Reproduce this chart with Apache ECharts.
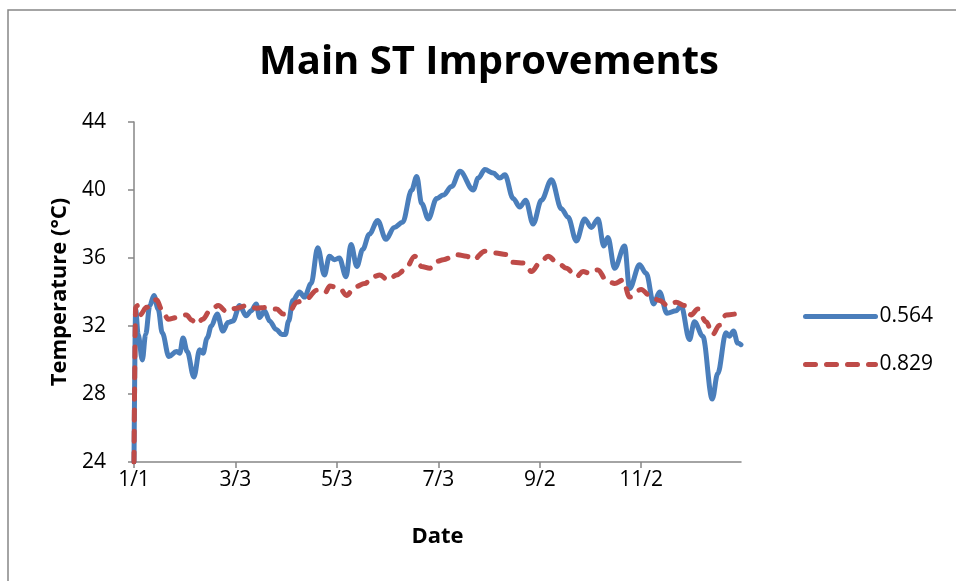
<!DOCTYPE html>
<html>
<head>
<meta charset="utf-8">
<title>Main ST Improvements</title>
<script src="https://cdn.jsdelivr.net/npm/echarts@6/dist/echarts.min.js"></script>
<style>
  html, body { margin: 0; padding: 0; background: #fff; }
  #chart { width: 956px; height: 581px; }
</style>
</head>
<body>
<div id="chart"></div>
<script>
// x is day of year (0 = 1/1)
const xTickDays = [0, 61, 122, 183, 244, 305]
const xTickLabels = ['1/1', '3/3', '5/3', '7/3', '9/2', '11/2']

const blueName = '0.564'
const blueDays = [0, 1, 2.5, 5, 7, 9.5, 12, 14.5, 17, 21, 25.5, 27.5, 29.5, 32, 36, 39.5, 41.5, 44, 46.5, 50,
  53.5, 56.5, 59.5, 63.5, 67.5, 70.5, 73.5, 75.5, 78.5, 81.5, 85.5, 89, 91, 93, 95.5, 99.5, 102.5, 106.5, 110.5, 114.5,
  117.5, 120.5, 123.5, 127.5, 130.5, 134, 137.5, 141.5, 146.5, 151.5, 156.5, 161.5, 167, 170, 173, 177, 182, 186, 191, 196,
  204, 207, 211, 216, 220, 223, 228, 232, 235.5, 240, 245, 251, 257, 261, 266, 271, 275, 279, 282.5, 285,
  289, 295, 298, 304, 308, 312.5, 316, 320.5, 326, 329, 334, 337, 342, 347.7, 351, 356, 358, 360.5, 363, 365]
const blueTemps = [24, 33.0, 31.5, 30.0, 31.5, 33.2, 33.8, 33.0, 31.6, 30.2, 30.5, 30.4, 31.3, 30.5, 29.0, 30.6, 30.4, 31.3, 32.0, 32.7,
  31.7, 32.2, 32.3, 33.2, 32.6, 32.9, 33.3, 32.5, 32.9, 32.3, 31.8, 31.5, 31.5, 32.3, 33.5, 34.0, 33.7, 34.5, 36.6, 35.0,
  36.1, 35.9, 36.0, 34.9, 36.8, 35.5, 36.5, 37.4, 38.2, 37.1, 37.8, 38.1, 40.0, 40.8, 39.2, 38.3, 39.5, 39.7, 40.2, 41.1,
  40.0, 40.7, 41.2, 41.0, 40.7, 40.9, 39.5, 39.0, 39.4, 38.0, 39.4, 40.6, 38.9, 38.4, 37.0, 38.3, 37.8, 38.3, 36.7, 37.2,
  35.4, 36.7, 34.2, 35.6, 35.1, 33.3, 34.0, 32.75, 32.9, 33.2, 31.2, 32.25, 31.4, 27.7, 29.2, 31.6, 31.4, 31.7, 31.0, 30.9]

const redName = '0.829'
const redDays = [0, 1, 2, 3.6, 7.6, 13.6, 16.6, 20.6, 25.6, 31.6, 34.6, 37.7, 41.3, 45.7, 50.7, 55.7, 61.7, 67.7, 73.7, 79.7,
  85.7, 89.8, 93.8, 97.8, 103.8, 109.8, 114.8, 117.8, 123.8, 127.8, 132.8, 138.8, 143.8, 147.8, 152.8, 157.9, 162.9, 168.9, 172.9, 177.9,
  182, 186, 194, 200, 204, 211, 217, 224, 228, 235, 239, 244, 249, 255, 260, 266, 270, 274, 279, 284,
  289, 294, 298, 305, 310, 316, 321, 326, 331, 335, 339, 344, 348, 352, 356, 361]
const redTemps = [24, 33.1, 33.2, 32.65, 33.1, 33.55, 33.0, 32.4, 32.5, 32.65, 32.35, 32.1, 32.4, 32.9, 33.2, 32.85, 33.05, 33.2, 33.05, 33.1,
  33.0, 32.7, 32.9, 33.4, 33.6, 34.1, 33.95, 34.35, 34.2, 33.8, 34.3, 34.5, 34.9, 35.0, 34.7, 35.0, 35.3, 36.1, 35.5, 35.4,
  35.8, 35.9, 36.2, 36.1, 35.9, 36.4, 36.3, 36.2, 35.75, 35.7, 35.2, 35.7, 36.1, 35.7, 35.4, 34.9, 35.2, 35.1, 35.3, 34.7,
  34.5, 34.7, 33.7, 34.15, 33.8, 33.5, 33.2, 33.4, 33.2, 32.65, 33.0, 32.25, 31.5, 32.05, 32.65, 32.7]

const font = '"Open Sans", "Noto Sans", sans-serif'
const axisColor = '#868686'

const chart = echarts.init(document.getElementById('chart'))

chart.setOption({
  animation: false,
  color: ['#4a7ebb', '#be4b48'],
  graphic: [{
    type: 'rect',
    shape: { x: 8, y: 10, width: 1000, height: 700 },
    style: { fill: 'none', stroke: axisColor, lineWidth: 1.5 },
    silent: true
  }],
  title: {
    text: 'Main ST Improvements',
    left: 254,
    top: 38,
    textStyle: { fontFamily: font, fontSize: 40, fontWeight: 'bold', color: '#000' }
  },
  legend: {
    orient: 'vertical',
    left: 798,
    top: 301,
    itemWidth: 70,
    itemHeight: 14,
    itemGap: 27,
    itemStyle: { opacity: 0 },
    lineStyle: { width: 5 },
    textStyle: { fontFamily: font, fontSize: 21, color: '#000', padding: [0, 0, 0, -1] },
    data: [blueName, redName]
  },
  grid: { left: 134, right: 215, top: 122, bottom: 119 },
  xAxis: {
    type: 'value',
    min: 0,
    max: 365,
    interval: 61,
    name: 'Date',
    nameLocation: 'middle',
    nameGap: 64,
    nameTextStyle: { fontFamily: font, fontSize: 22, fontWeight: 'bold', color: '#000' },
    splitLine: { show: false },
    axisLine: { lineStyle: { color: axisColor, width: 1.5 } },
    axisTick: { length: 6, customValues: xTickDays, lineStyle: { color: axisColor, width: 1.5 } },
    axisLabel: {
      customValues: xTickDays,
      margin: 8,
      fontFamily: font,
      fontSize: 21,
      color: '#000',
      formatter: v => xTickLabels[xTickDays.indexOf(v)] || ''
    }
  },
  yAxis: {
    type: 'value',
    min: 24,
    max: 44,
    interval: 4,
    name: 'Temperature (°C)',
    nameLocation: 'middle',
    nameGap: 62,
    nameTextStyle: { fontFamily: font, fontSize: 22, fontWeight: 'bold', color: '#000' },
    splitLine: { show: false },
    axisLine: { show: true, lineStyle: { color: axisColor, width: 1.5 } },
    axisTick: { show: true, length: 6, lineStyle: { color: axisColor, width: 1.5 } },
    axisLabel: { margin: 28, fontFamily: font, fontSize: 21, color: '#000' }
  },
  series: [
    {
      name: blueName,
      type: 'line',
      showSymbol: false,
      symbol: 'none',
      smooth: 0.35,
      smoothMonotone: 'x',
      lineStyle: { width: 5, color: '#4a7ebb', cap: 'round', join: 'round' },
      data: blueDays.map((d, i) => [d, blueTemps[i]])
    },
    {
      name: redName,
      type: 'line',
      showSymbol: false,
      symbol: 'none',
      smooth: 0.35,
      smoothMonotone: 'x',
      lineStyle: { width: 5, color: '#be4b48', type: [10, 11], cap: 'round', join: 'round' },
      data: redDays.map((d, i) => [d, redTemps[i]])
    }
  ]
})
</script>
</body>
</html>
